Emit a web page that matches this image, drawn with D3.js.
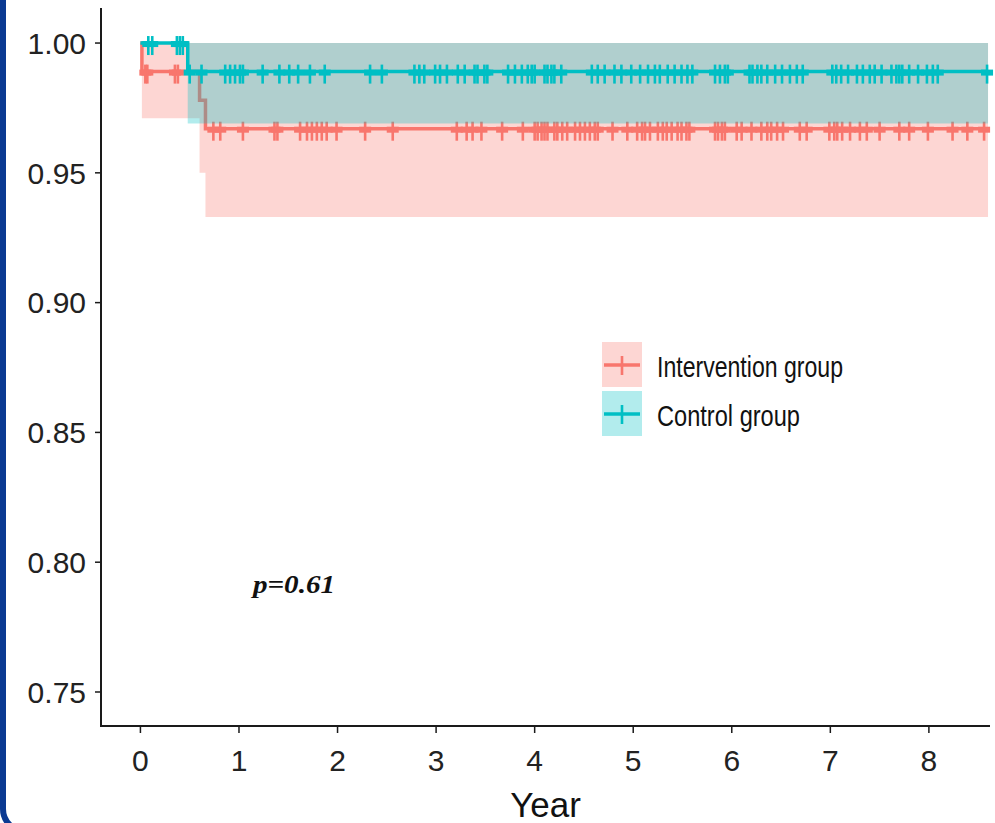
<!DOCTYPE html>
<html lang="en">
<head>
<meta charset="UTF-8">
<title>Survival curve</title>
<style>
  body { margin: 0; background: #fff; }
  svg { display: block; }
</style>
</head>
<body>
<svg width="995" height="823"></svg>
<script src="https://cdn.jsdelivr.net/npm/d3@7"></script>
<script>
// step curves (time in years, survival probability)
var interventionTimes = [0, 0.015, 0.60, 0.66];
var interventionSurv  = [1, 0.989, 0.978, 0.967];
var interventionLower = [1, 0.971, 0.950, 0.933];
var interventionUpper = [1, 1, 1, 1];
var interventionCensor = [0.05, 0.07, 0.35, 0.38, 0.74, 0.81, 1.04, 1.36, 1.39, 1.62, 1.69, 1.74, 1.79, 1.84,
  1.89, 1.99, 2.28, 2.56, 3.21, 3.31, 3.37, 3.46, 3.67, 3.88, 4.00, 4.03, 4.07, 4.10, 4.13, 4.20, 4.23,
  4.28, 4.33, 4.41, 4.46, 4.51, 4.56, 4.61, 4.64, 4.79, 4.94, 5.04, 5.09, 5.12, 5.17, 5.25, 5.30, 5.34,
  5.39, 5.45, 5.49, 5.54, 5.57, 5.83, 5.86, 5.90, 5.93, 6.05, 6.10, 6.20, 6.30, 6.36, 6.40, 6.46, 6.52,
  6.69, 6.76, 6.99, 7.04, 7.07, 7.12, 7.20, 7.30, 7.37, 7.50, 7.70, 7.80, 7.99, 8.24, 8.39, 8.56];

var controlTimes = [0, 0.48];
var controlSurv  = [1, 0.989];
var controlLower = [1, 0.969];
var controlUpper = [1, 1];
var controlCensor = [0.08, 0.12, 0.37, 0.40, 0.43, 0.50, 0.62, 0.86, 0.91, 0.96, 1.01, 1.04, 1.24, 1.41,
  1.51, 1.60, 1.72, 1.87, 2.33, 2.45, 2.78, 2.83, 2.88, 2.99, 3.04, 3.11, 3.22, 3.29, 3.39, 3.42, 3.49,
  3.52, 3.73, 3.80, 3.87, 3.93, 3.97, 4.00, 4.10, 4.13, 4.17, 4.20, 4.27, 4.58, 4.64, 4.71, 4.81, 4.88,
  4.98, 5.07, 5.15, 5.22, 5.27, 5.35, 5.42, 5.49, 5.55, 5.60, 5.83, 5.88, 5.93, 5.96, 6.18, 6.21, 6.26,
  6.30, 6.36, 6.44, 6.51, 6.59, 6.66, 6.72, 7.02, 7.06, 7.11, 7.18, 7.27, 7.33, 7.40, 7.45, 7.52, 7.62,
  7.67, 7.70, 7.73, 7.80, 7.89, 7.98, 8.04, 8.09, 8.59];

var followUpEnd = 8.6;
var xTicks = [0, 1, 2, 3, 4, 5, 6, 7, 8];
var yTicks = [0.75, 0.80, 0.85, 0.90, 0.95, 1.00];
var groupNames = ["Intervention group", "Control group"];
var pText = "p=0.61";

var red = "#F8766D", teal = "#00BFC4";

var svg = d3.select("svg");
var x = d3.scaleLinear().domain([-0.4, 8.62]).range([101, 990]);
var y = d3.scaleLinear().domain([0.7369, 1.0135]).range([726, 8]);

// blue frame on the left edge
svg.append("rect")
  .attr("x", 3).attr("y", -60).attr("width", 1100).attr("height", 891)
  .attr("rx", 22)
  .attr("fill", "none").attr("stroke", "#0b3a92").attr("stroke-width", 6);

function makeGroup(times, surv, lower, upper, censor) {
  var pts = times.map(function(t, i) {
    return {t: t, s: surv[i], lo: lower[i], up: upper[i]};
  });
  var last = pts[pts.length - 1];
  pts.push({t: followUpEnd, s: last.s, lo: last.lo, up: last.up});
  var marks = censor.map(function(c) {
    var i = d3.bisectRight(times, c) - 1;
    return {t: c, s: surv[i]};
  });
  return {pts: pts, marks: marks};
}

var groups = [
  Object.assign(makeGroup(interventionTimes, interventionSurv, interventionLower, interventionUpper, interventionCensor), {color: red}),
  Object.assign(makeGroup(controlTimes, controlSurv, controlLower, controlUpper, controlCensor), {color: teal})
];

var area = d3.area()
  .curve(d3.curveStepAfter)
  .x(function(d) { return x(d.t); })
  .y0(function(d) { return y(d.lo); })
  .y1(function(d) { return y(d.up); });

var line = d3.line()
  .curve(d3.curveStepAfter)
  .x(function(d) { return x(d.t); })
  .y(function(d) { return y(d.s); });

function drawCensor(g, data, color) {
  var m = g.append("g").selectAll("g")
    .data(data).enter().append("g")
    .attr("transform", function(d) { return "translate(" + x(d.t) + "," + y(d.s) + ")"; });
  m.append("rect").attr("x", -6).attr("y", -2).attr("width", 12).attr("height", 6).attr("fill", color);
  m.append("rect").attr("x", -1.3).attr("y", -7).attr("width", 2.6).attr("height", 19).attr("fill", color);
}

// ribbon, curve and censor marks, group by group
groups.forEach(function(gr) {
  var g = svg.append("g");
  g.append("path").attr("d", area(gr.pts)).attr("fill", gr.color).attr("fill-opacity", 0.3);
  g.append("path").attr("d", line(gr.pts)).attr("fill", "none")
    .attr("stroke", gr.color).attr("stroke-width", 3.5);
  drawCensor(g, gr.marks, gr.color);
});

// axes
var axisColor = "#1a1a1a";
svg.append("line").attr("x1", 101).attr("x2", 101).attr("y1", 8).attr("y2", 727)
  .attr("stroke", axisColor).attr("stroke-width", 2);
svg.append("line").attr("x1", 100).attr("x2", 990).attr("y1", 726).attr("y2", 726)
  .attr("stroke", axisColor).attr("stroke-width", 2);

svg.append("g").selectAll("line").data(yTicks).enter().append("line")
  .attr("x1", 95).attr("x2", 101)
  .attr("y1", function(d) { return y(d); }).attr("y2", function(d) { return y(d); })
  .attr("stroke", axisColor).attr("stroke-width", 1.5);
svg.append("g").selectAll("text").data(yTicks).enter().append("text")
  .attr("x", 86).attr("y", function(d) { return y(d); }).attr("dy", "0.36em")
  .attr("text-anchor", "end")
  .style("font-family", "'Liberation Sans', Arial, sans-serif").style("font-size", "30px")
  .attr("fill", "#222")
  .text(function(d) { return d3.format(".2f")(d); });

svg.append("g").selectAll("line").data(xTicks).enter().append("line")
  .attr("x1", function(d) { return x(d); }).attr("x2", function(d) { return x(d); })
  .attr("y1", 726).attr("y2", 733)
  .attr("stroke", axisColor).attr("stroke-width", 1.5);
svg.append("g").selectAll("text").data(xTicks).enter().append("text")
  .attr("x", function(d) { return x(d); }).attr("y", 771)
  .attr("text-anchor", "middle")
  .style("font-family", "'Liberation Sans', Arial, sans-serif").style("font-size", "30px")
  .attr("fill", "#222")
  .text(function(d) { return d; });

svg.append("text")
  .attr("x", (101 + 990) / 2).attr("y", 817)
  .attr("text-anchor", "middle")
  .style("font-family", "'Liberation Sans', Arial, sans-serif").style("font-size", "35px")
  .attr("fill", "#111")
  .text("Year");

// legend
var legendColors = [red, teal];
var legendWidths = [186, 143];
var lg = svg.append("g").selectAll("g").data(groupNames).enter().append("g")
  .attr("transform", function(d, i) { return "translate(602," + (342 + i * 49) + ")"; });
lg.append("rect").attr("width", 40).attr("height", 45)
  .attr("fill", function(d, i) { return legendColors[i]; }).attr("fill-opacity", 0.3);
lg.append("line").attr("x1", 2).attr("x2", 38).attr("y1", 23).attr("y2", 23)
  .attr("stroke", function(d, i) { return legendColors[i]; }).attr("stroke-width", 3.5);
lg.append("rect").attr("x", 18.7).attr("y", 14).attr("width", 2.6).attr("height", 19)
  .attr("fill", function(d, i) { return legendColors[i]; });
lg.append("text")
  .attr("x", 55).attr("y", 35)
  .attr("textLength", function(d, i) { return legendWidths[i]; })
  .attr("lengthAdjust", "spacingAndGlyphs")
  .style("font-family", "'Liberation Sans Narrow', 'Liberation Sans', Arial, sans-serif")
  .style("font-size", "29px")
  .attr("fill", "#111")
  .text(function(d) { return d; });

// p value
svg.append("text")
  .attr("x", 253).attr("y", 593)
  .attr("textLength", 82).attr("lengthAdjust", "spacingAndGlyphs")
  .style("font-family", "'Liberation Serif', 'Times New Roman', serif")
  .style("font-size", "26px").style("font-weight", "bold").style("font-style", "italic")
  .attr("fill", "#111")
  .text(pText);
</script>
</body>
</html>
